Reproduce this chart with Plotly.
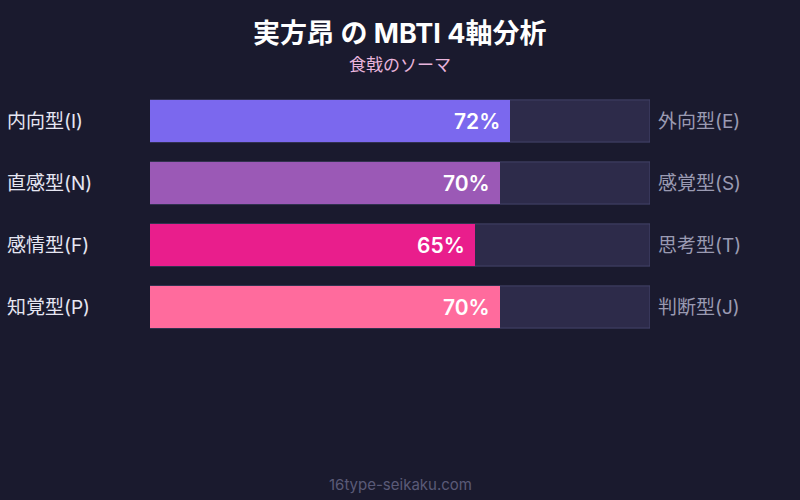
import plotly.graph_objects as go

left_labels = ["内向型(I)", "直感型(N)", "感情型(F)", "知覚型(P)"]
right_labels = ["外向型(E)", "感覚型(S)", "思考型(T)", "判断型(J)"]
values = [72, 70, 65, 70]
colors = ["#7b68ee", "#9b59b6", "#e91e8c", "#ff6b9d"]
title = "実方昂 の MBTI 4軸分析"
subtitle = "食戟のソーマ"
footer = "16type-seikaku.com"

FONT = "Inter, Noto Sans CJK JP, sans-serif"

fig = go.Figure()
fig.add_trace(go.Bar(
    x=[100] * len(values), y=left_labels, orientation="h",
    marker=dict(color="#2d2b4a", line=dict(color="#44446a", width=1)),
    hoverinfo="skip", showlegend=False,
))
fig.add_trace(go.Bar(
    x=values, y=left_labels, orientation="h",
    marker=dict(color=colors, cornerradius=10, line=dict(color="rgba(0,0,0,0)", width=0.5)),
    showlegend=False,
))

annotations = []
for i, (l, r, v) in enumerate(zip(left_labels, right_labels, values)):
    annotations.append(dict(x=-0.29, xref="paper", y=l, yref="y", text=l,
                            xanchor="left", showarrow=False,
                            font=dict(family=FONT, size=19, color="#e6e6f2")))
    annotations.append(dict(x=1.012, xref="paper", y=l, yref="y", text=r,
                            xanchor="left", showarrow=False,
                            font=dict(family=FONT, size=19, color="#9a9ab2")))
    annotations.append(dict(x=v, xref="x", y=l, yref="y", text=f"{v}%",
                            xanchor="right", xshift=-8, showarrow=False,
                            font=dict(family=FONT, size=21, color="#ffffff", weight=600)))

annotations.append(dict(x=0.5, xref="paper", y=33, yref="paper", text=title,
                        showarrow=False, font=dict(family=FONT, size=27, color="#ffffff", weight=700)))
annotations.append(dict(x=0.5, xref="paper", y=65, yref="paper", text=subtitle,
                        showarrow=False, font=dict(family=FONT, size=17, color="#e8b4dc")))
annotations.append(dict(x=0.5, xref="paper", y=484, yref="paper", text=footer,
                        showarrow=False, font=dict(family=FONT, size=15, color="#5a5a78")))

T, B = 90, 162
ph = 500 - T - B
for a in annotations[-3:]:
    a["y"] = (500 - B - a["y"]) / ph
    a["yanchor"] = "middle"

fig.update_layout(
    width=800, height=500,
    margin=dict(l=150, r=150, t=T, b=B),
    paper_bgcolor="#1a1a2e", plot_bgcolor="#1a1a2e",
    barmode="overlay", bargap=0.32,
    xaxis=dict(range=[0, 100], visible=False, fixedrange=True),
    yaxis=dict(type="category", categoryorder="array", categoryarray=left_labels,
               autorange="reversed", visible=False, fixedrange=True),
    annotations=annotations,
    font=dict(family=FONT),
)

fig.write_html(
    "out.html",
    config={"displayModeBar": False},
    post_script="document.body.style.margin='0';document.body.style.background='#1a1a2e';",
)
